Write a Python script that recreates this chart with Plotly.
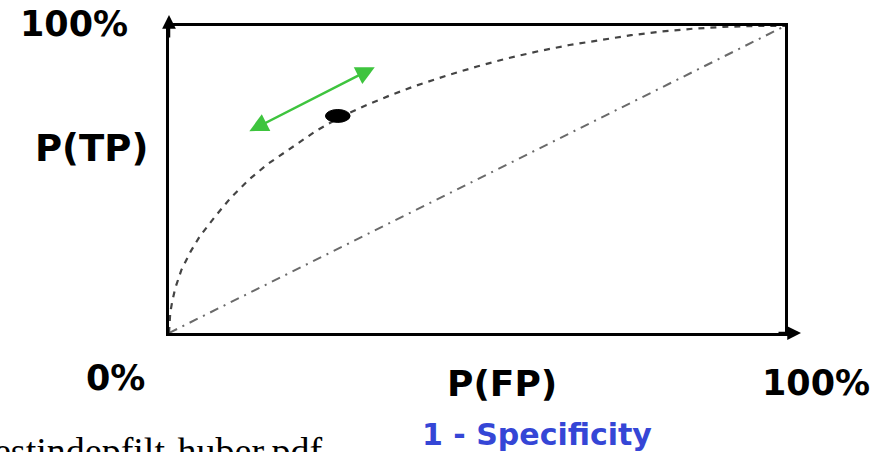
import plotly.graph_objects as go

# ROC curve sketch: true-positive rate against false-positive rate
roc_fp = [0.0, 0.002, 0.005, 0.01, 0.02, 0.035, 0.05, 0.075, 0.10, 0.13, 0.16, 0.20, 0.24,
          0.28, 0.32, 0.36, 0.40, 0.45, 0.50, 0.55, 0.60, 0.65, 0.70, 0.75, 0.80, 0.85,
          0.90, 0.95, 1.0]
roc_tp = [0.0, 0.065, 0.10, 0.145, 0.205, 0.265, 0.315, 0.38, 0.44, 0.50, 0.55, 0.605, 0.66,
          0.705, 0.742, 0.775, 0.805, 0.838, 0.868, 0.895, 0.918, 0.938, 0.955, 0.97, 0.982, 0.991,
          0.997, 1.0, 1.0]

# chance line
chance_fp = [0.0, 1.0]
chance_tp = [0.0, 1.0]

# operating point on the curve
point_fp = [0.274]
point_tp = [0.707]

W, H = 882, 452
L, R, T, B = 169, 97, 26, 119

fig = go.Figure()

fig.add_trace(go.Scatter(
    x=chance_fp, y=chance_tp, mode="lines",
    line=dict(color="#6a6a6a", width=2, dash="9px,6px,2px,6px"),
    hoverinfo="skip", showlegend=False,
))
fig.add_trace(go.Scatter(
    x=roc_fp, y=roc_tp, mode="lines",
    line=dict(color="#444444", width=2.2, dash="6px,6px"),
    hoverinfo="skip", showlegend=False,
))

# operating point drawn as a flat ellipse
rx, ry = 0.02, 0.021
for px, py in zip(point_fp, point_tp):
    fig.add_shape(type="circle", xref="x", yref="y",
                  x0=px - rx, x1=px + rx, y0=py - ry, y1=py + ry,
                  fillcolor="black", line=dict(color="black", width=1))

annotations = [
    # axis arrowheads (paper coordinates so they may sit outside the axis range)
    dict(x=0, y=1.036, xref="paper", yref="paper", ax=0, ay=24, text="",
         showarrow=True, arrowhead=2, arrowsize=1.1, arrowwidth=2.5, arrowcolor="black",
         _keep=True),
    dict(x=1.026, y=0, xref="paper", yref="paper", ax=-24, ay=0, text="",
         showarrow=True, arrowhead=2, arrowsize=1.1, arrowwidth=2.5, arrowcolor="black",
         _keep=True),
    # double-headed green arrow along the curve
    dict(x=0.334, y=0.866, ax=0.128, ay=0.655, xref="x", yref="y", axref="x", ayref="y",
         text="", showarrow=True, arrowside="end+start", arrowhead=2, startarrowhead=2,
         arrowsize=1.5, startarrowsize=1.5, arrowwidth=2.5, arrowcolor="#3ec43e"),
]

bold = dict(family="DejaVu Sans", color="black", weight="bold")
labels = [
    ("100%", 74, 24, 35, bold),
    ("P(TP)", 91, 148, 37, bold),
    ("0%", 115, 378, 35, bold),
    ("P(FP)", 502, 383, 36, bold),
    ("100%", 816, 383, 35, bold),
    ("1 - Specificity", 537, 434, 30, dict(family="DejaVu Sans", color="#3546d6", weight="bold")),
]
for txt, px, py, size, f in labels:
    annotations.append(dict(
        text=txt, x=px / W, y=1 - py / H, xref="paper", yref="paper",
        xanchor="center", yanchor="middle", showarrow=False,
        font=dict(size=size, **f),
    ))

annotations.append(dict(
    text="estindepfilt-huber.pdf", x=-8 / W, y=1 - 428 / H, xref="paper", yref="paper",
    xanchor="left", yanchor="top", showarrow=False,
    font=dict(family="Liberation Serif", size=38, color="black"),
))

# page-pixel label positions converted to plot-area paper coordinates
for a in annotations:
    if a.pop("_keep", False):
        continue
    if a.get("xref") == "paper":
        px = a["x"] * W
        py = (1 - a["y"]) * H
        a["x"] = (px - L) / (W - L - R)
        a["y"] = 1 - (py - T) / (H - T - B)

fig.update_layout(
    width=W, height=H, autosize=False,
    margin=dict(l=L, r=R, t=T, b=B, pad=0),
    paper_bgcolor="white", plot_bgcolor="white",
    annotations=annotations,
    xaxis=dict(range=[0, 1], showgrid=False, zeroline=False, showticklabels=False,
               ticks="", showline=True, linecolor="black", linewidth=2.5, mirror=True),
    yaxis=dict(range=[0, 1], showgrid=False, zeroline=False, showticklabels=False,
               ticks="", showline=True, linecolor="black", linewidth=2.5, mirror=True),
)

fig.write_html("out.html", config={"displayModeBar": False})
